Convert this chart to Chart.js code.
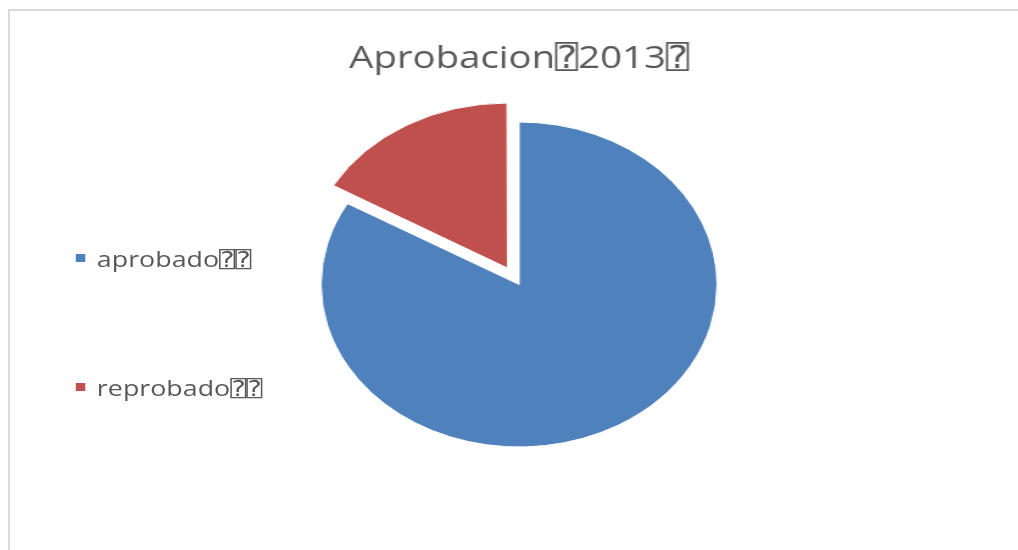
<!DOCTYPE html>
<html>
<head>
<meta charset="utf-8">
<script src="https://cdn.jsdelivr.net/npm/chart.js@4"></script>
<style>
    html, body { margin: 0; padding: 0; background: #fff; overflow: hidden; }
    body { width: 1018px; height: 550px; position: relative; }
    .frame {
        position: absolute; left: 8px; top: 9px; width: 1100px; height: 600px;
        border-top: 2px solid #d9d9d9; border-left: 2px solid #d9d9d9;
    }
    /* the reference is stretched sideways, so the whole chart is too */
    .stretch {
        position: absolute; left: 0; top: 0; width: 836px; height: 550px;
        transform: scaleX(1.2185); transform-origin: 0 0;
    }
    #legend {
        position: absolute; left: 62px; top: 243px;
        font-family: 'Open Sans', 'DejaVu Sans Mono', sans-serif; font-size: 22px; color: #595959;
    }
    .item { display: flex; align-items: center; height: 30px; line-height: 30px; margin-bottom: 98.5px; }
    .swatch { width: 8px; height: 8px; margin-right: 9.5px; }
</style>
</head>
<body>
<div class="frame"></div>
<div class="stretch">
    <canvas id="pieChart" width="836" height="550"></canvas>
    <div id="legend"></div>
</div>
<script>
const chartTitle = 'Aprobacion\u23702013\u2370';
const categories = ['aprobado\u2370\u2370', 'reprobado\u2370\u2370'];
const values = [83.3, 16.7];
const sliceColors = ['#4F81BD', '#C0504D'];

const legendBox = document.getElementById('legend');
categories.forEach((name, i) => {
    legendBox.innerHTML += `
        <div class="item">
            <span class="swatch" style="background:${sliceColors[i]}"></span>
            <span>${name}</span>
        </div>
    `;
});

// chart.js moves an arc by offset/4, so 76 pulls the small slice out ~19px
const pieChart = new Chart(document.getElementById('pieChart'), {
    type: 'pie',
    data: {
        labels: categories,
        datasets: [{
            data: values,
            backgroundColor: sliceColors,
            borderColor: '#fff',
            borderWidth: 1,
            offset: [0, 76],
            hoverOffset: 0,
            clip: false
        }]
    },
    options: {
        responsive: false,
        animation: false,
        devicePixelRatio: 1,
        events: [],
        layout: { padding: { left: 16, right: 0, top: 0, bottom: 64.5 } },
        plugins: {
            legend: { display: false },
            tooltip: { enabled: false },
            title: {
                display: true,
                text: chartTitle,
                color: '#595959',
                font: { family: "'Open Sans', 'DejaVu Sans Mono'", size: 31.5, weight: 'normal' },
                padding: { top: 40.5, bottom: 5.2 }
            }
        }
    }
});
</script>
</body>
</html>
